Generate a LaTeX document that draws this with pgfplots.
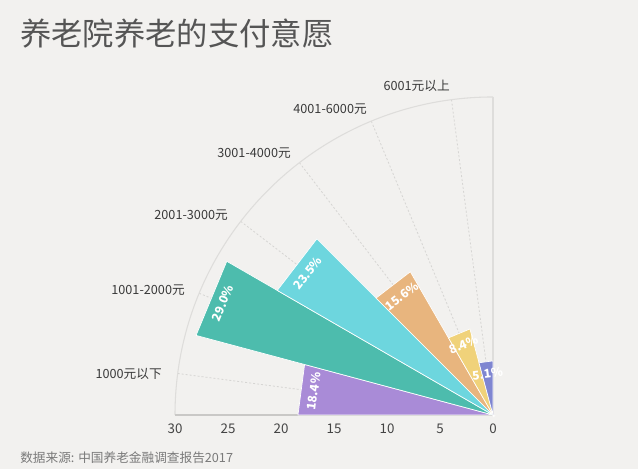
\documentclass[border=0pt]{standalone}
\usepackage{fontspec}
\setmainfont{Noto Sans CJK SC}
\usepackage{pgfplots}
\pgfplotsset{compat=1.18}
\definecolor{bg}{HTML}{F2F1EF}
\definecolor{gridc}{HTML}{D6D5D3}
\definecolor{arcc}{HTML}{DEDDDB}
\definecolor{axisc}{HTML}{C9C8C6}
\definecolor{cA}{HTML}{A98BD7}
\definecolor{cB}{HTML}{4DBCAD}
\definecolor{cC}{HTML}{6DD6DE}
\definecolor{cD}{HTML}{E8B57E}
\definecolor{cE}{HTML}{F0D27A}
\definecolor{cF}{HTML}{7F86D1}
\definecolor{titlec}{HTML}{555555}
\definecolor{labc}{HTML}{3A3A3A}
\definecolor{tickc}{HTML}{444444}
\definecolor{srcc}{HTML}{7A7A7A}
\begin{document}
\begin{tikzpicture}
\begin{axis}[hide axis, x=7.95pt, y=7.95pt,
  xmin=-46.51, xmax=13.68, ymin=-5.094, ymax=39.15, clip=false,
  vlab/.style={draw=none, data cs=polar, nodes near coords, point meta=explicit symbolic,
     nodes near coords style={anchor=center, text=white, font=\bfseries\fontsize{9}{9}\selectfont, inner sep=0pt, rotate=#1}}]
\fill[bg] (axis cs:-46.51,-5.094) rectangle (axis cs:13.68,39.15);
\coordinate (BL) at (axis cs:-46.51,-5.094);
\coordinate (TR) at (axis cs:13.68,39.15);
% grid
\addplot[gridc, line width=0.6pt, dash pattern=on 1.5pt off 1.5pt, data cs=polar] coordinates {(0,0) (172.5,30)};
\addplot[gridc, line width=0.6pt, dash pattern=on 1.5pt off 1.5pt, data cs=polar] coordinates {(0,0) (157.5,30)};
\addplot[gridc, line width=0.6pt, dash pattern=on 1.5pt off 1.5pt, data cs=polar] coordinates {(0,0) (142.5,30)};
\addplot[gridc, line width=0.6pt, dash pattern=on 1.5pt off 1.5pt, data cs=polar] coordinates {(0,0) (127.5,30)};
\addplot[gridc, line width=0.6pt, dash pattern=on 1.5pt off 1.5pt, data cs=polar] coordinates {(0,0) (112.5,30)};
\addplot[gridc, line width=0.6pt, dash pattern=on 1.5pt off 1.5pt, data cs=polar] coordinates {(0,0) (97.5,30)};
\draw[arcc, line width=0.8pt] (axis cs:-30,0) arc[start angle=180, end angle=90, radius=238.5pt];
\draw[arcc, line width=0.8pt] (axis cs:0,0) -- (axis cs:0,30);
\draw[axisc, line width=1pt] (axis cs:-30,0) -- (axis cs:0,0);
% sectors
\addplot[fill=cA, draw=white, line width=0.5pt, data cs=polar] coordinates {(0,0) (180,18.4) (165,18.4)} -- cycle;
\addplot[fill=cB, draw=white, line width=0.5pt, data cs=polar] coordinates {(0,0) (165,29.0) (150,29.0)} -- cycle;
\addplot[fill=cC, draw=white, line width=0.5pt, data cs=polar] coordinates {(0,0) (150,23.5) (135,23.5)} -- cycle;
\addplot[fill=cD, draw=white, line width=0.5pt, data cs=polar] coordinates {(0,0) (135,15.6) (120,15.6)} -- cycle;
\addplot[fill=cE, draw=white, line width=0.5pt, data cs=polar] coordinates {(0,0) (120,8.4) (105,8.4)} -- cycle;
\addplot[fill=cF, draw=white, line width=0.5pt, data cs=polar] coordinates {(0,0) (105,5.1) (90,5.1)} -- cycle;
% value labels
\addplot[vlab=82.5] coordinates {(172.5,17.05) [18.4\%]};
\addplot[vlab=67.5] coordinates {(157.5,27.6) [29.0\%]};
\addplot[vlab=52.5] coordinates {(142.5,22.0) [23.5\%]};
\addplot[vlab=37.5] coordinates {(127.5,14.15) [15.6\%]};
\addplot[vlab=22.5] coordinates {(112.5,7.2) [8.4\%]};
\addplot[vlab=7.5] coordinates {(97.5,3.9) [5.1\%]};
% category labels
\begin{scope}[every node/.style={anchor=east, inner sep=0pt, text=labc, font=\fontsize{9.5}{9.5}\selectfont}]
\node at (axis cs:-31.23,3.87) {1000元以下};
\node at (axis cs:-29.06,11.79) {1001-2000元};
\node at (axis cs:-25.0,18.87) {2001-3000元};
\node at (axis cs:-19.06,24.72) {3001-4000元};
\node at (axis cs:-11.89,28.87) {4001-6000元};
\node at (axis cs:-4.06,31.04) {6001元以上};
\end{scope}
% ticks
\begin{scope}[every node/.style={inner sep=0pt, text=tickc, font=\fontsize{10}{10}\selectfont}]
\node at (axis cs:-30,-1.32) {30};
\node at (axis cs:-25,-1.32) {25};
\node at (axis cs:-20,-1.32) {20};
\node at (axis cs:-15,-1.32) {15};
\node at (axis cs:-10,-1.32) {10};
\node at (axis cs:-5,-1.32) {5};
\node at (axis cs:0,-1.32) {0};
\end{scope}
\node[anchor=west, inner sep=0pt, text=titlec, font=\fontsize{23.5}{23.5}\selectfont] at (axis cs:-44.62,35.94) {养老院养老的支付意愿};
\node[anchor=west, inner sep=0pt, text=srcc, font=\fontsize{9.5}{9.5}\selectfont] at (axis cs:-44.62,-4.06) {数据来源: 中国养老金融调查报告2017};
\end{axis}
\pgfresetboundingbox
\useasboundingbox (BL) rectangle (TR);
\end{tikzpicture}
\end{document}
